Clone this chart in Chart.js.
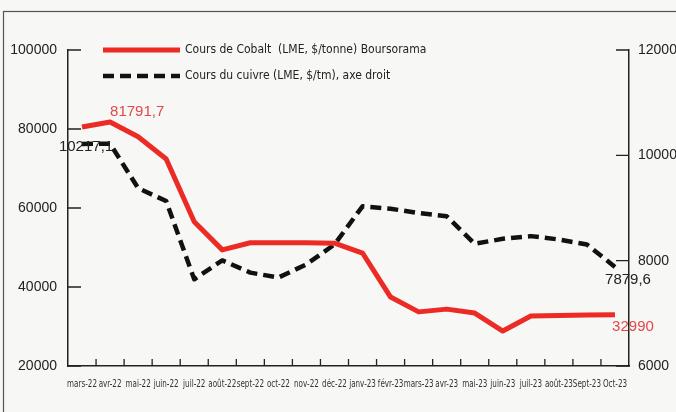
<!DOCTYPE html>
<html>
<head>
<meta charset="utf-8">
<script src="https://cdn.jsdelivr.net/npm/chart.js@4"></script>
<style>
  body { margin: 0; background: #f7f7f5; }
  #wrap { width: 676px; height: 412px; }
</style>
</head>
<body>
<div id="wrap"><canvas id="c" width="676" height="412"></canvas></div>
<script>
// months on the x axis
const months = ['mars-22', 'avr-22', 'mai-22', 'juin-22', 'juil-22', 'août-22', 'sept-22', 'oct-22', 'nov-22', 'déc-22',
  'janv-23', 'févr-23', 'mars-23', 'avr-23', 'mai-23', 'juin-23', 'juil-23', 'août-23', 'Sept-23', 'Oct-23'];

// cobalt, $/tonne (left axis)
const cobalt = [80500, 81791.7, 78050, 72400, 56500, 49400, 51200, 51200, 51200, 51100,
  48600, 37450, 33700, 34400, 33400, 28850, 32650, 32800, 32900, 32990];

// copper, $/tm (right axis)
const cuivre = [10217.1, 10220, 9377, 9132, 7647, 8005, 7773, 7679, 7930, 8307,
  9032, 8987, 8905, 8843, 8320, 8415, 8466, 8402, 8307, 7879.6];

const leftTicks = [20000, 40000, 60000, 80000, 100000];
const rightTicks = [6000, 8000, 10000, 12000];

const RED = '#ec2b25';
const BLACK = '#111111';

// labelled points: [dataset, index, text, dx, dy, align, colour]
const pointLabels = [
  [0, 1, '81791,7', 0, -10, 'left', '#e0484a'],
  [1, 0, '10217,1', 4, 3, 'center', '#222'],
  [1, 19, '7879,6', 13, 13, 'center', '#222'],
  [0, 19, '32990', 18, 12, 'center', '#e0484a']
];

const frame = {
  id: 'frame',
  beforeDraw(chart) {
    const ctx = chart.ctx;
    ctx.save();
    ctx.fillStyle = '#f7f7f5';
    ctx.fillRect(0, 0, chart.width, chart.height);
    ctx.strokeStyle = '#555';
    ctx.lineWidth = 1.2;
    ctx.strokeRect(3.5, 11.5, 700, 500);
    ctx.restore();
  }
};

// short ticks pointing into the plot
const innerTicks = {
  id: 'innerTicks',
  afterDraw(chart) {
    const ctx = chart.ctx;
    const a = chart.chartArea;
    ctx.save();
    ctx.strokeStyle = '#222';
    ctx.lineWidth = 1.3;
    ctx.beginPath();
    const y = chart.scales.y, y2 = chart.scales.y2, x = chart.scales.x;
    y.ticks.forEach(t => {
      const p = y.getPixelForValue(t.value);
      ctx.moveTo(a.left, p); ctx.lineTo(a.left + 13, p);
    });
    y2.ticks.forEach(t => {
      const p = y2.getPixelForValue(t.value);
      ctx.moveTo(a.right, p); ctx.lineTo(a.right - 13, p);
    });
    for (let i = 1; i < months.length; i++) {
      const p = (x.getPixelForValue(i - 1) + x.getPixelForValue(i)) / 2;
      ctx.moveTo(p, a.bottom); ctx.lineTo(p, a.bottom - 7);
    }
    ctx.stroke();
    ctx.restore();
  }
};

// condensed month labels under the axis
const monthLabels = {
  id: 'monthLabels',
  afterDraw(chart) {
    const ctx = chart.ctx;
    const x = chart.scales.x;
    ctx.save();
    ctx.font = '10px "Liberation Sans Narrow", "DejaVu Sans Condensed", sans-serif';
    ctx.fillStyle = '#333';
    ctx.textAlign = 'center';
    ctx.textBaseline = 'middle';
    months.forEach((m, i) => {
      const px = x.getPixelForValue(i);
      ctx.save();
      ctx.translate(px, 384);
      ctx.scale(0.8, 1);
      ctx.fillText(m, 0, 0);
      ctx.restore();
    });
    ctx.restore();
  }
};

const legendBox = {
  id: 'legendBox',
  afterDraw(chart) {
    const ctx = chart.ctx;
    ctx.save();
    ctx.font = '12px "Liberation Sans Narrow", "DejaVu Sans Condensed", sans-serif';
    ctx.textBaseline = 'middle';
    ctx.fillStyle = '#222';
    chart.data.datasets.forEach((ds, i) => {
      const yy = 50 + i * 26;
      ctx.beginPath();
      ctx.strokeStyle = ds.borderColor;
      ctx.lineWidth = ds.borderWidth;
      ctx.setLineDash(ds.borderDash || []);
      ctx.moveTo(103, yy); ctx.lineTo(180, yy);
      ctx.stroke();
      ctx.setLineDash([]);
      ctx.fillText(ds.label, 185, yy);
    });
    ctx.restore();
  }
};

const valueLabels = {
  id: 'valueLabels',
  afterDatasetsDraw(chart) {
    const ctx = chart.ctx;
    ctx.save();
    ctx.font = '15px "Liberation Sans", Arial, sans-serif';
    ctx.textBaseline = 'middle';
    pointLabels.forEach(([d, i, txt, dx, dy, align, col]) => {
      const pt = chart.getDatasetMeta(d).data[i];
      ctx.fillStyle = col;
      ctx.textAlign = align;
      ctx.fillText(txt, pt.x + dx, pt.y + dy);
    });
    ctx.restore();
  }
};

const tickFont = { family: '"Liberation Sans", Arial, sans-serif', size: 14 };

new Chart(document.getElementById('c'), {
  type: 'line',
  data: {
    labels: months,
    datasets: [
      {
        label: 'Cours de Cobalt  (LME, $/tonne) Boursorama',
        data: cobalt,
        yAxisID: 'y',
        borderColor: RED,
        borderWidth: 5,
        pointRadius: 0,
        tension: 0,
        borderJoinStyle: 'round'
      },
      {
        label: 'Cours du cuivre (LME, $/tm), axe droit',
        data: cuivre,
        yAxisID: 'y2',
        borderColor: BLACK,
        borderWidth: 4.5,
        borderDash: [11, 6],
        pointRadius: 0,
        tension: 0,
        borderJoinStyle: 'round'
      }
    ]
  },
  options: {
    responsive: false,
    animation: false,
    layout: { padding: { top: 50 } },
    plugins: { legend: { display: false }, tooltip: { enabled: false } },
    scales: {
      x: {
        offset: true,
        grid: { display: false, drawTicks: false },
        border: { display: true, color: '#222', width: 1.5 },
        ticks: { display: false },
        afterFit(s) { s.height = 46; }
      },
      y: {
        position: 'left',
        min: 20000, max: 100000,
        afterBuildTicks(s) { s.ticks = leftTicks.map(v => ({ value: v })); },
        grid: { display: false, drawTicks: false },
        border: { display: true, color: '#222', width: 1.5 },
        ticks: { padding: 11, color: '#222', font: tickFont, callback: v => String(v) },
        afterFit(s) { s.width = 68; }
      },
      y2: {
        position: 'right',
        min: 6000, max: 12000,
        afterBuildTicks(s) { s.ticks = rightTicks.map(v => ({ value: v })); },
        grid: { display: false, drawTicks: false },
        border: { display: true, color: '#222', width: 1.5 },
        ticks: { padding: 9, color: '#222', font: tickFont, callback: v => String(v) },
        afterFit(s) { s.width = 47; }
      }
    }
  },
  plugins: [frame, innerTicks, monthLabels, legendBox, valueLabels]
});
</script>
</body>
</html>
